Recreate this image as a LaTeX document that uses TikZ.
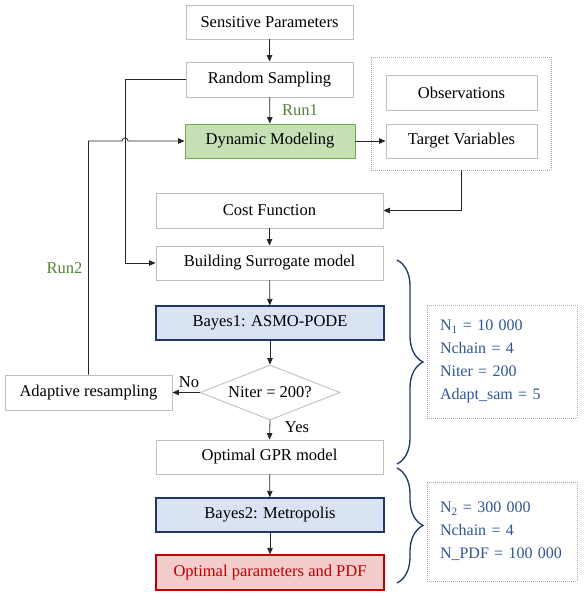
\documentclass[tikz,border=0pt]{standalone}
\usepackage{fontspec}
\setmainfont{Liberation Serif}
\usetikzlibrary{arrows.meta,shapes.geometric,decorations.pathreplacing}
\definecolor{boxgray}{HTML}{BFBFBF}
\definecolor{dotgray}{HTML}{A6A6A6}
\definecolor{greenfill}{HTML}{C5E0B4}
\definecolor{greenline}{HTML}{70AD47}
\definecolor{bluefill}{HTML}{DAE3F3}
\definecolor{navy}{HTML}{1F3864}
\definecolor{paramblue}{HTML}{2F5597}
\definecolor{redfill}{HTML}{F4CCCC}
\definecolor{redline}{HTML}{C00000}
\definecolor{rungreen}{HTML}{548235}
\definecolor{linegray}{HTML}{262626}
\tikzset{
  base/.style={font=\fontsize{16.5}{19}\selectfont, inner sep=0pt, line width=0.9pt},
  graybox/.style={base, draw=boxgray, rectangle},
  greenbox/.style={base, draw=greenline, fill=greenfill, rectangle},
  bluebox/.style={base, draw=navy, fill=bluefill, rectangle, line width=1.2pt},
  redbox/.style={base, draw=redline, fill=redfill, rectangle, text=redline, line width=1.2pt},
  dotbox/.style={draw=dotgray, line width=0.7pt, dash pattern=on 1pt off 1pt, rectangle, inner sep=0pt},
  parambox/.style={dotbox, font=\fontsize{16}{23}\selectfont, text=paramblue, align=left, text width=124pt, inner xsep=13pt},
  arr/.style={draw=linegray, line width=0.8pt, -{Triangle[length=6.5pt,width=5.5pt]}},
  runlbl/.style={font=\fontsize{16.5}{19}\selectfont, text=rungreen, inner sep=0pt},
  lbl/.style={font=\fontsize{16.5}{19}\selectfont, inner sep=0pt},
  bracestyle/.style={draw=navy, line width=1.3pt, decorate, decoration={brace, amplitude=26pt}}
}
\begin{document}
\begin{tikzpicture}[x=1pt,y=-1pt]
\useasboundingbox (0,0) rectangle (584,600);
% main flow
\node[graybox, minimum width=167pt, minimum height=34pt] (sp) at (269.5,22) {Sensitive Parameters};
\node[graybox, minimum width=167pt, minimum height=35pt] (rs) at (269.5,79.5) {Random Sampling};
\node[greenbox, minimum width=170pt, minimum height=34pt] (dm) at (270,141) {Dynamic Modeling};
\node[dotbox, minimum width=180pt, minimum height=113pt] (grp) at (461,113.5) {};
\node[graybox, minimum width=151pt, minimum height=35pt] (obs) at (461.5,92.5) {Observations};
\node[graybox, minimum width=151pt, minimum height=34pt] (tv) at (461.5,141) {Target Variables};
\node[graybox, minimum width=227pt, minimum height=35pt] (cf) at (269.5,210.5) {Cost Function};
\node[graybox, minimum width=227pt, minimum height=34pt] (bs) at (269.5,263) {Building Surrogate model};
\node[bluebox, minimum width=228pt, minimum height=34pt] (b1) at (270,323) {Bayes1: ASMO-PODE};
\node[base, draw=boxgray, diamond, aspect=2.5, minimum width=140pt, minimum height=55pt] (dia) at (270,392.5) {Niter = 200?};
\node[graybox, minimum width=167pt, minimum height=35pt] (ar) at (88.5,392.5) {Adaptive resampling};
\node[graybox, minimum width=227pt, minimum height=34pt] (og) at (269.5,457) {Optimal GPR model};
\node[bluebox, minimum width=228pt, minimum height=34pt] (b2) at (270,515) {Bayes2: Metropolis};
\node[redbox, minimum width=228pt, minimum height=35pt] (op) at (270,572.5) {Optimal parameters and PDF};
% parameter boxes
\node[parambox, minimum height=113pt] (p1) at (502,361.5) {N\textsubscript{1} = 10 000\\Nchain = 4\\Niter = 200\\Adapt\_sam = 5};
\node[parambox, minimum height=99pt] (p2) at (502,531.5) {N\textsubscript{2} = 300 000\\Nchain = 4\\N\_PDF = 100 000};
% labels
\node[runlbl] (run1) at (300,110) {Run1};
\node[runlbl] (run2) at (64.5,268) {Run2};
\node[lbl] (no) at (189,382) {No};
\node[lbl] (yes) at (297,427) {Yes};
% connectors
\draw[arr] (sp) -- (rs);
\draw[arr] (rs) -- (dm);
\draw[arr] (dm) -- (tv);
\draw[arr] (grp.south) |- (cf.east);
\draw[arr] (cf) -- (bs);
\draw[arr] (bs) -- (b1);
\draw[arr] (b1) -- (dia);
\draw[arr] (dia.west) -- (ar.east);
\draw[arr] (dia.south) -- (og.north);
\draw[arr] (og) -- (b2);
\draw[arr] (b2) -- (op);
\coordinate (cx) at (125,0);
\draw[arr] (rs.west) -- (rs.west -| cx) |- (bs.west);
\draw[arr] (ar.north) -- (ar.north |- dm.west) -- ([xshift=-3pt]dm.west -| cx) arc[start angle=180, end angle=0, radius=3pt] -- (dm.west);
% braces
\coordinate (br1a) at (397,260);
\coordinate (br1b) at (397,464);
\coordinate (br2a) at (397,468);
\coordinate (br2b) at (397,583);
\draw[bracestyle] (br1a) -- (br1b);
\draw[bracestyle] (br2a) -- (br2b);
\end{tikzpicture}
\end{document}
